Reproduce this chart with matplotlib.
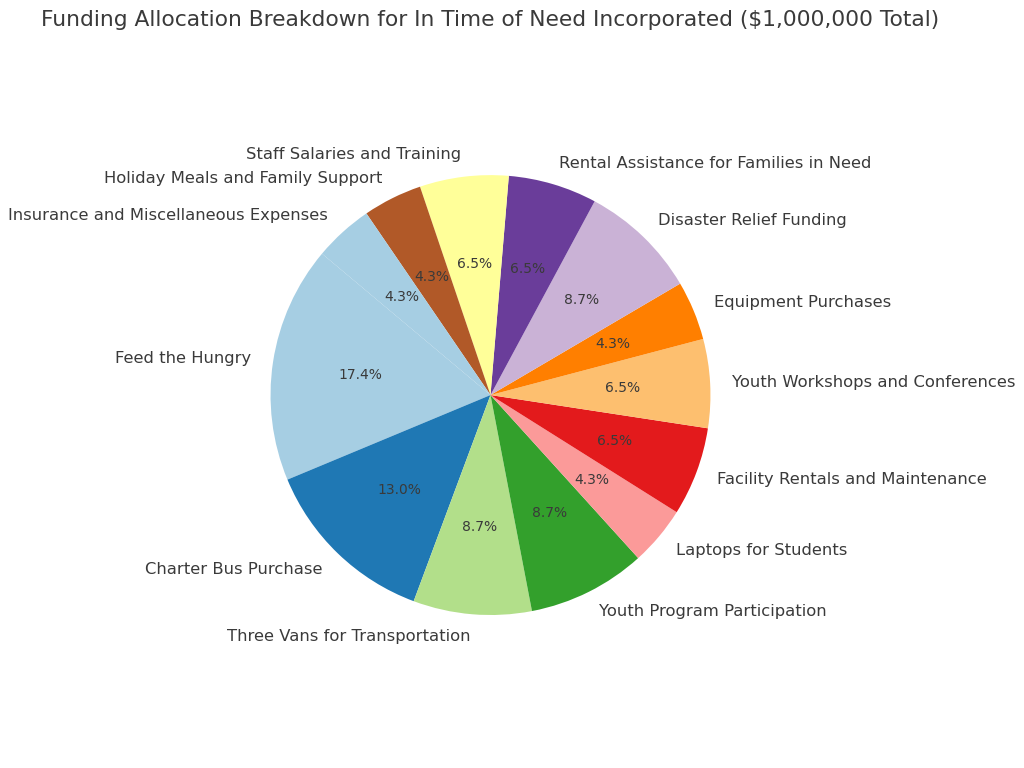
import matplotlib
matplotlib.use("Agg")
import matplotlib.pyplot as plt

categories = [
    "Feed the Hungry",
    "Charter Bus Purchase",
    "Three Vans for Transportation",
    "Youth Program Participation",
    "Laptops for Students",
    "Facility Rentals and Maintenance",
    "Youth Workshops and Conferences",
    "Equipment Purchases",
    "Disaster Relief Funding",
    "Rental Assistance for Families in Need",
    "Staff Salaries and Training",
    "Holiday Meals and Family Support",
    "Insurance and Miscellaneous Expenses",
]
amounts = [200000, 150000, 100000, 100000, 50000, 75000, 75000,
           50000, 100000, 75000, 75000, 50000, 50000]

text_color = "#3a3a3a"
colors = [plt.cm.Paired(i % 12) for i in range(len(categories))]

fig = plt.figure(figsize=(10.24, 7.68), dpi=100)
ax = fig.add_axes([0.2105, 0.1276, 0.537, 0.716])
wedges, texts, autotexts = ax.pie(
    amounts, labels=categories, colors=colors, autopct="%1.1f%%",
    startangle=140, textprops={"color": text_color, "fontsize": 11.8},
)
for t in autotexts:
    t.set_fontsize(10)
ax.set_aspect("equal")
fig.text(0.4785, 0.974, "Funding Allocation Breakdown for In Time of Need Incorporated ($1,000,000 Total)",
         ha="center", va="center", fontsize=15.7, color=text_color)
fig.savefig("out.png", dpi=100)
